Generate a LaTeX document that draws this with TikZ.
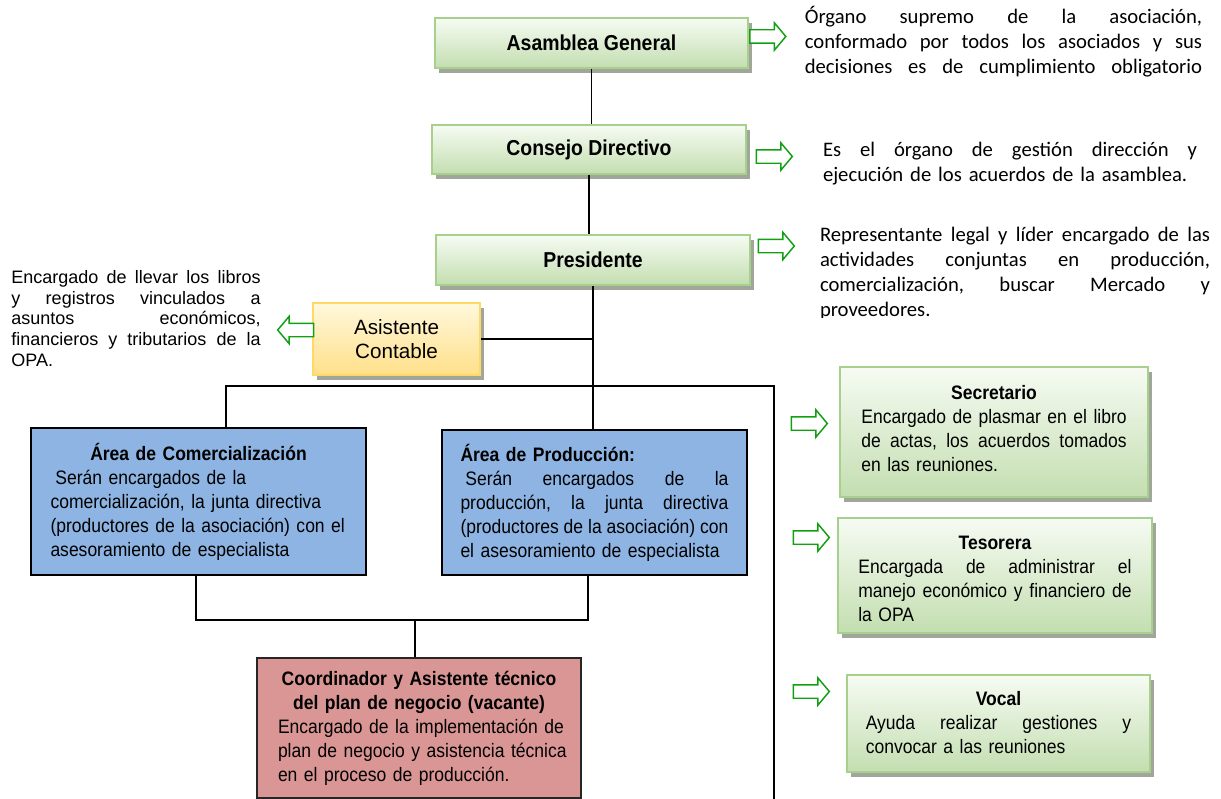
\documentclass[tikz,border=0pt]{standalone}
\usepackage{fontspec}
\setmainfont{Liberation Sans}
\newfontfamily\narrowfont[FakeStretch=0.9]{Liberation Sans}
\newfontfamily\calfont{Carlito}
\usetikzlibrary{shapes.arrows,shadows}
\definecolor{gborder}{HTML}{A8D08D}
\definecolor{gtop}{HTML}{F6FBF3}
\definecolor{gbot}{HTML}{C3DEB0}
\definecolor{shad}{HTML}{A0A69A}
\definecolor{ytop}{HTML}{FFF8DC}
\definecolor{ybot}{HTML}{FFE08A}
\definecolor{yborder}{HTML}{FFD966}
\definecolor{bluefill}{HTML}{8DB4E2}
\definecolor{redfill}{HTML}{DA9694}
\definecolor{arrowgreen}{HTML}{12A012}
\newcommand\jl[1]{\leavevmode\hbox to\linewidth{\frenchspacing\spaceskip=\fontdimen2\font plus 1fil\relax #1}}
\newcommand\ctr[1]{\leavevmode\hbox to\linewidth{\hfil #1\hfil}}
\newcommand\nl[1]{\leavevmode\hbox{#1}}
\begin{document}
\begin{tikzpicture}[x=0.75pt,y=-0.75pt,
  hdr/.style={draw=gborder, line width=1.5pt, top color=gtop, bottom color=gbot,
    drop shadow={shadow xshift=3pt, shadow yshift=-3.5pt, fill=shad, opacity=1},
    inner sep=0pt, font=\narrowfont\bfseries\fontsize{16.2}{19}\selectfont},
  gbox/.style={hdr},
  gtext/.style={inner sep=0pt, align=left, font=\narrowfont\fontsize{14.6}{18}\selectfont},
  ybox/.style={draw=yborder, line width=1.5pt, top color=ytop, bottom color=ybot,
    drop shadow={shadow xshift=3pt, shadow yshift=-3.5pt, fill=shad, opacity=1},
    inner sep=0pt, align=center, font=\fontsize{15.5}{18}\selectfont},
  bbox/.style={draw=black, line width=1.4pt, fill=bluefill, inner sep=0pt, align=left,
    font=\narrowfont\fontsize{14.6}{18}\selectfont},
  rbox/.style={draw=black!85, line width=1.4pt, fill=redfill, inner sep=0pt, align=left,
    font=\narrowfont\fontsize{14.6}{18}\selectfont},
  harrow/.style={single arrow, draw=arrowgreen, fill=white, line width=1.1pt,
    minimum height=27pt, single arrow head extend=5.25pt, single arrow tip angle=100,
    inner xsep=0pt, inner ysep=4.5pt, text height=0pt, text depth=0pt},
  desc/.style={inner sep=0pt, align=left, font=\calfont\fontsize{15.5}{18.75}\selectfont},
  conn/.style={draw=black, line width=1.3pt},
  bus/.style={draw=black, line width=2pt}
]
\useasboundingbox (0,0) rectangle (1221,799);
\fill[white] (0,0) rectangle (1221,799);

\coordinate (busL) at (226,386);
\coordinate (busR) at (774,386);
\coordinate (busEnd) at (774,805);
\coordinate (jL) at (196,620);
\coordinate (jR) at (588,620);
\coordinate (jC) at (415,620);

% boxes
\node[hdr, minimum width=234.75pt, minimum height=37.5pt] (asamblea) at (591.5,43) {Asamblea General};
\node[hdr, minimum width=235.5pt, minimum height=36.75pt] (consejo) at (589,149.5) {Consejo Directivo};
\node[hdr, minimum width=235.5pt, minimum height=37.5pt] (presidente) at (593,260) {Presidente};
\node[ybox, minimum width=125.25pt, minimum height=54pt] (asistente) at (396.5,339) {Asistente\\Contable};

\node[bbox, text width=222pt, minimum width=251.25pt, minimum height=110.25pt] (comer) at (198.5,501.5)
 {\ctr{\bfseries Área de Comercialización}\\\nl{\hspace*{.25em}Serán encargados de la}\\\nl{comercialización, la junta directiva}\\\nl{(productores de la asociación) con el}\\\nl{asesoramiento de especialista}};
\node[bbox, text width=201pt, minimum width=228.75pt, minimum height=108.75pt] (prod) at (594.5,502.5)
 {\nl{\bfseries Área de Producción:}\\\jl{\hspace*{.25em}Serán encargados de la}\\\jl{producción, la junta directiva}\\\jl{(productores de la asociación) con}\\\nl{el asesoramiento de especialista}};
\node[rbox, text width=211.5pt, minimum width=243pt, minimum height=105pt] (coord) at (419,728)
 {\ctr{\bfseries Coordinador y Asistente técnico}\\\ctr{\bfseries del plan de negocio (vacante)}\\\nl{Encargado de la implementación de}\\\nl{plan de negocio y asistencia técnica}\\\nl{en el proceso de producción.}};

\node[gbox, minimum width=231pt, minimum height=97.5pt] (secre) at (994,432) {};
\node[gtext, text width=199pt] (secreT) at (994,428.5)
 {\ctr{\bfseries Secretario}\\\jl{Encargado de plasmar en el libro}\\\jl{de actas, los acuerdos tomados}\\\nl{en las reuniones.}};
\node[gbox, minimum width=235.5pt, minimum height=86.25pt] (teso) at (995,575.5) {};
\node[gtext, text width=205pt] (tesoT) at (995,578.5)
 {\ctr{\bfseries Tesorera}\\\jl{Encargada de administrar el}\\\jl{manejo económico y financiero de}\\\nl{la OPA}};
\node[gbox, minimum width=227.25pt, minimum height=72.75pt] (vocal) at (998.5,723.5) {};
\node[gtext, text width=199pt] (vocalT) at (998.5,722.5)
 {\ctr{\bfseries Vocal}\\\jl{Ayuda realizar gestiones y}\\\nl{convocar a las reuniones}};

% connectors
\draw[conn] (asamblea.south) -- (asamblea.south |- consejo.north);
\draw[conn] (consejo.south) -- (consejo.south |- presidente.north);
\draw[conn] (presidente.south) -- (presidente.south |- prod.north);
\draw[conn] (asistente.east) -- (asistente.east -| presidente.south);
\draw[bus] (comer.north -| busL) -- (busL) -- (busR) -- (busEnd);
\draw[conn] (comer.south -| jL) -- (jL) -- (jR) -- (prod.south -| jR);
\draw[conn] (jC) -- (coord.north -| jC);

% arrows
\node[harrow] (a1) at (765,36.5) {};
\node[harrow] (a2) at (771.5,156.5) {};
\node[harrow] (a3) at (773.5,246) {};
\node[harrow, shape border rotate=180] (a4) at (298.5,330) {};
\node[harrow] (a5) at (806.5,423.5) {};
\node[harrow] (a6) at (808.5,537.5) {};
\node[harrow] (a7) at (808.5,691.5) {};

% descriptions
\node[desc, text width=298pt] (d1) at (1003.5,42)
 {\jl{Órgano supremo de la asociación,}\\\jl{conformado por todos los asociados y sus}\\\jl{decisiones es de cumplimiento obligatorio}};
\node[desc, text width=280.5pt] (d2) at (1010,163.5)
 {\jl{Es el órgano de gestión dirección y}\\\nl{ejecución de los acuerdos de la asamblea.}};
\begin{scope}
\clip (800,215) rectangle (1221,317);
\node[desc, text width=292.5pt] (d3) at (1015,273)
 {\jl{Representante legal y líder encargado de las}\\\jl{actividades conjuntas en producción,}\\\jl{comercialización, buscar Mercado y}\\\nl{proveedores.}};
\end{scope}
\node[inner sep=0pt, align=left, text width=187pt, font=\fontsize{13.5}{15.6}\selectfont] (d4) at (136,318.5)
 {\jl{Encargado de llevar los libros}\\\jl{y registros vinculados a}\\\jl{asuntos económicos,}\\\jl{financieros y tributarios de la}\\\nl{OPA.}};
\end{tikzpicture}
\end{document}
